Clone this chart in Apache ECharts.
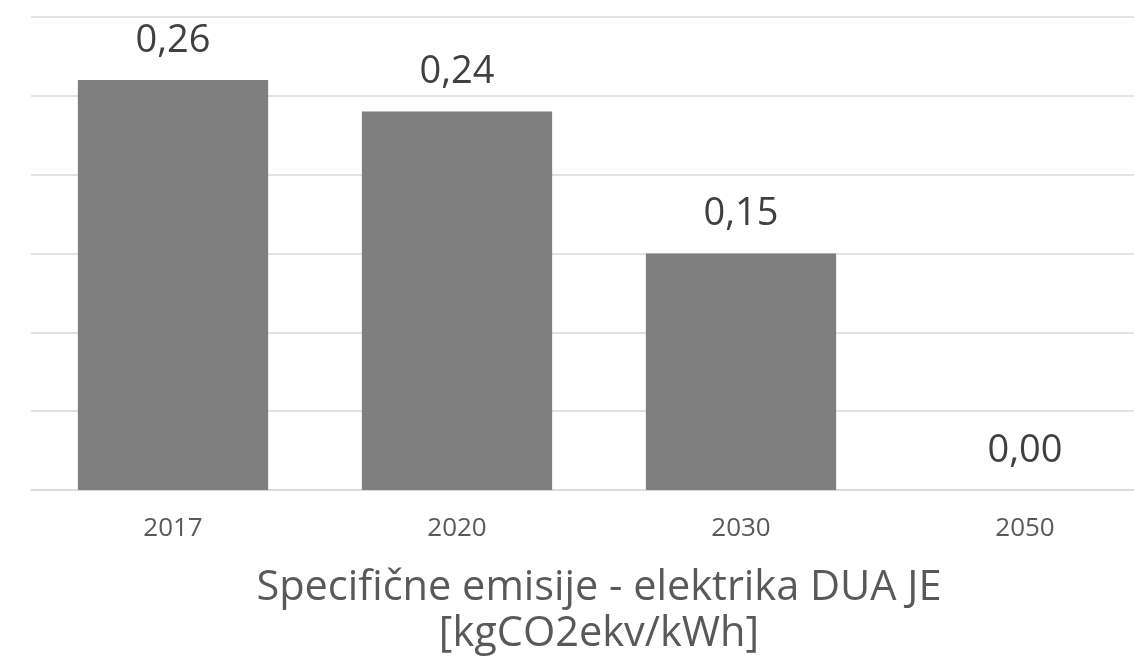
<!DOCTYPE html>
<html>
<head>
<meta charset="utf-8">
<script src="https://cdn.jsdelivr.net/npm/echarts@6/dist/echarts.min.js"></script>
<style>
  html, body { margin: 0; padding: 0; background: #ffffff; }
  #chart { width: 1134px; height: 672px; }
</style>
</head>
<body>
<div id="chart"></div>
<script>
// Specific emissions of electricity per year
const years = ['2017', '2020', '2030', '2050'];
const emissions = [0.26, 0.24, 0.15, 0.00];
const axisTitle = 'Specifične emisije - elektrika DUA JE\n[kgCO2ekv/kWh]';

const FONT = '"Open Sans", "Noto Sans", sans-serif';
const chart = echarts.init(document.getElementById('chart'), null, { renderer: 'canvas' });

chart.setOption({
  animation: false,
  backgroundColor: '#ffffff',
  // plot area runs past the right edge of the canvas
  grid: { left: 31, right: -33, top: 17, bottom: 182, outerBoundsMode: 'none' },
  xAxis: {
    type: 'category',
    data: years,
    axisLine: { show: true, lineStyle: { color: '#d9d9d9', width: 1.5 } },
    axisTick: { show: false },
    axisLabel: {
      color: '#595959', fontFamily: FONT, fontSize: 26, lineHeight: 30, margin: 24
    },
    name: axisTitle,
    nameLocation: 'middle',
    nameGap: 75,
    nameTextStyle: {
      color: '#595959', fontFamily: FONT, fontSize: 41.5, lineHeight: 46, align: 'center'
    }
  },
  yAxis: {
    type: 'value',
    min: 0,
    max: 0.3,
    interval: 0.05,
    axisLine: { show: false },
    axisTick: { show: false },
    axisLabel: { show: false },
    splitLine: { lineStyle: { color: '#d9d9d9', width: 1.5 } }
  },
  series: [{
    type: 'bar',
    data: emissions,
    barCategoryGap: '33%',
    itemStyle: { color: '#7f7f7f' },
    label: {
      show: true,
      position: 'top',
      distance: 20,
      color: '#404040',
      fontFamily: FONT,
      fontSize: 38,
      lineHeight: 38,
      formatter: p => p.value.toFixed(2).replace('.', ',')
    }
  }]
});
</script>
</body>
</html>
